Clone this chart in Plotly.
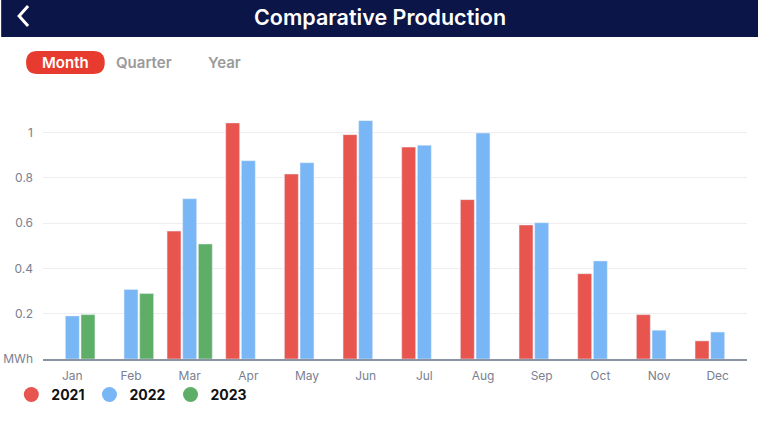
import plotly.graph_objects as go

# monthly production per year (MWh)
months = ['Jan', 'Feb', 'Mar', 'Apr', 'May', 'Jun',
          'Jul', 'Aug', 'Sep', 'Oct', 'Nov', 'Dec']
prod_2021 = [None, None, 0.565, 1.043, 0.817, 0.991,
             0.936, 0.704, 0.592, 0.377, 0.196, 0.080]
prod_2022 = [0.190, 0.307, 0.708, 0.876, 0.867, 1.053,
             0.944, 0.998, 0.602, 0.433, 0.127, 0.119]
prod_2023 = [0.196, 0.289, 0.508, None, None, None,
             None, None, None, None, None, None]

years = ['2021', '2022', '2023']
colors = ['#E8554E', '#78B6F6', '#5EAE68']
series = [prod_2021, prod_2022, prod_2023]

y_ticks = [0, 0.2, 0.4, 0.6, 0.8, 1]
y_ticktext = ['MWh', '0.2', '0.4', '0.6', '0.8', '1']

tabs = ['Month', 'Quarter', 'Year']

W, H = 758, 428
L, R, T, B = 40, 11, 110, 69
PW, PH = W - L - R, H - T - B


def px(x, y):
    # pixel position on the page -> paper coords (relative to plot area)
    return (x - L) / PW, (H - B - y) / PH


fig = go.Figure()

for name, vals, col in zip(years, series, colors):
    fig.add_trace(go.Bar(x=months, y=vals, name=name, marker_color=col,
                         showlegend=False))
    # round legend markers
    fig.add_trace(go.Scatter(x=[None], y=[None], mode='markers', name=name,
                             marker=dict(symbol='circle', size=15, color=col)))

shapes = []
# top bar
x0p, y0p = px(-2, 37)
x1p, y1p = px(W + 2, -2)
shapes.append(dict(type='rect', xref='paper', yref='paper', x0=x0p, x1=x1p,
                   y0=y0p, y1=y1p, fillcolor='#0B1547', line_width=0,
                   layer='below'))
# back chevron
a, b, c = px(25, 6), px(16, 16), px(25, 26)
shapes.append(dict(type='path', xref='paper', yref='paper',
                   path=f'M {a[0]},{a[1]} L {b[0]},{b[1]} L {c[0]},{c[1]}',
                   line=dict(color='white', width=3)))
# red pill behind "Month"
x0, x1, y0, y1, r = 23, 102, 51, 74, 11.5
p = []
p.append('M %f,%f' % px(x0 + r, y0))
p.append('L %f,%f' % px(x1 - r, y0))
p.append('Q %f,%f %f,%f' % (*px(x1, y0), *px(x1, y0 + r)))
p.append('Q %f,%f %f,%f' % (*px(x1, y1), *px(x1 - r, y1)))
p.append('L %f,%f' % px(x0 + r, y1))
p.append('Q %f,%f %f,%f' % (*px(x0, y1), *px(x0, y0 + r)))
p.append('Q %f,%f %f,%f' % (*px(x0, y0), *px(x0 + r, y0)))
p.append('Z')
shapes.append(dict(type='path', xref='paper', yref='paper', path=' '.join(p),
                   fillcolor='#E63B2E', line_width=0, layer='below'))

annotations = [dict(text='Comparative Production', x=px(378, 0)[0],
                    y=px(0, 17)[1], xref='paper', yref='paper',
                    xanchor='center', yanchor='middle', showarrow=False,
                    font=dict(family='Inter', size=21.5, color='white',
                              weight=600))]
tab_x = [63, 141, 222]
for t, tx in zip(tabs, tab_x):
    annotations.append(dict(text=t, x=px(tx, 0)[0],
                            y=px(0, 62)[1], xref='paper', yref='paper',
                            xanchor='center', yanchor='middle',
                            showarrow=False,
                            font=dict(family='Inter', size=15, weight=600,
                                      color='white' if t == 'Month' else '#9A9A9A')))

fig.update_layout(
    width=W, height=H,
    margin=dict(l=L, r=R, t=T, b=B),
    paper_bgcolor='white', plot_bgcolor='white',
    barmode='group', bargap=0.2, bargroupgap=0.11,
    font=dict(family='Inter', color='#7A8090', size=12),
    xaxis=dict(showgrid=False, showline=True, linecolor='#8C93A3',
               linewidth=2, ticks='', ticklabelstandoff=5, automargin=False,
               tickfont=dict(size=12, color='#7A8090')),
    yaxis=dict(range=[0, 1.1], tickvals=y_ticks, ticktext=y_ticktext,
               showgrid=True, gridcolor='#EEEEF2', zeroline=False,
               ticks='', ticklabelstandoff=9, automargin=False,
               tickfont=dict(size=12, color='#7A8090')),
    legend=dict(orientation='h', x=-0.045, y=-0.08, xanchor='left',
                yanchor='top', bgcolor='rgba(0,0,0,0)',
                font=dict(family='Inter', size=14, color='#111', weight=700),
                itemwidth=30, tracegroupgap=0),
    shapes=shapes, annotations=annotations,
    showlegend=True,
)

fig.write_html('out.html', config={'displayModeBar': False},
               post_script="document.body.style.margin='0';")
